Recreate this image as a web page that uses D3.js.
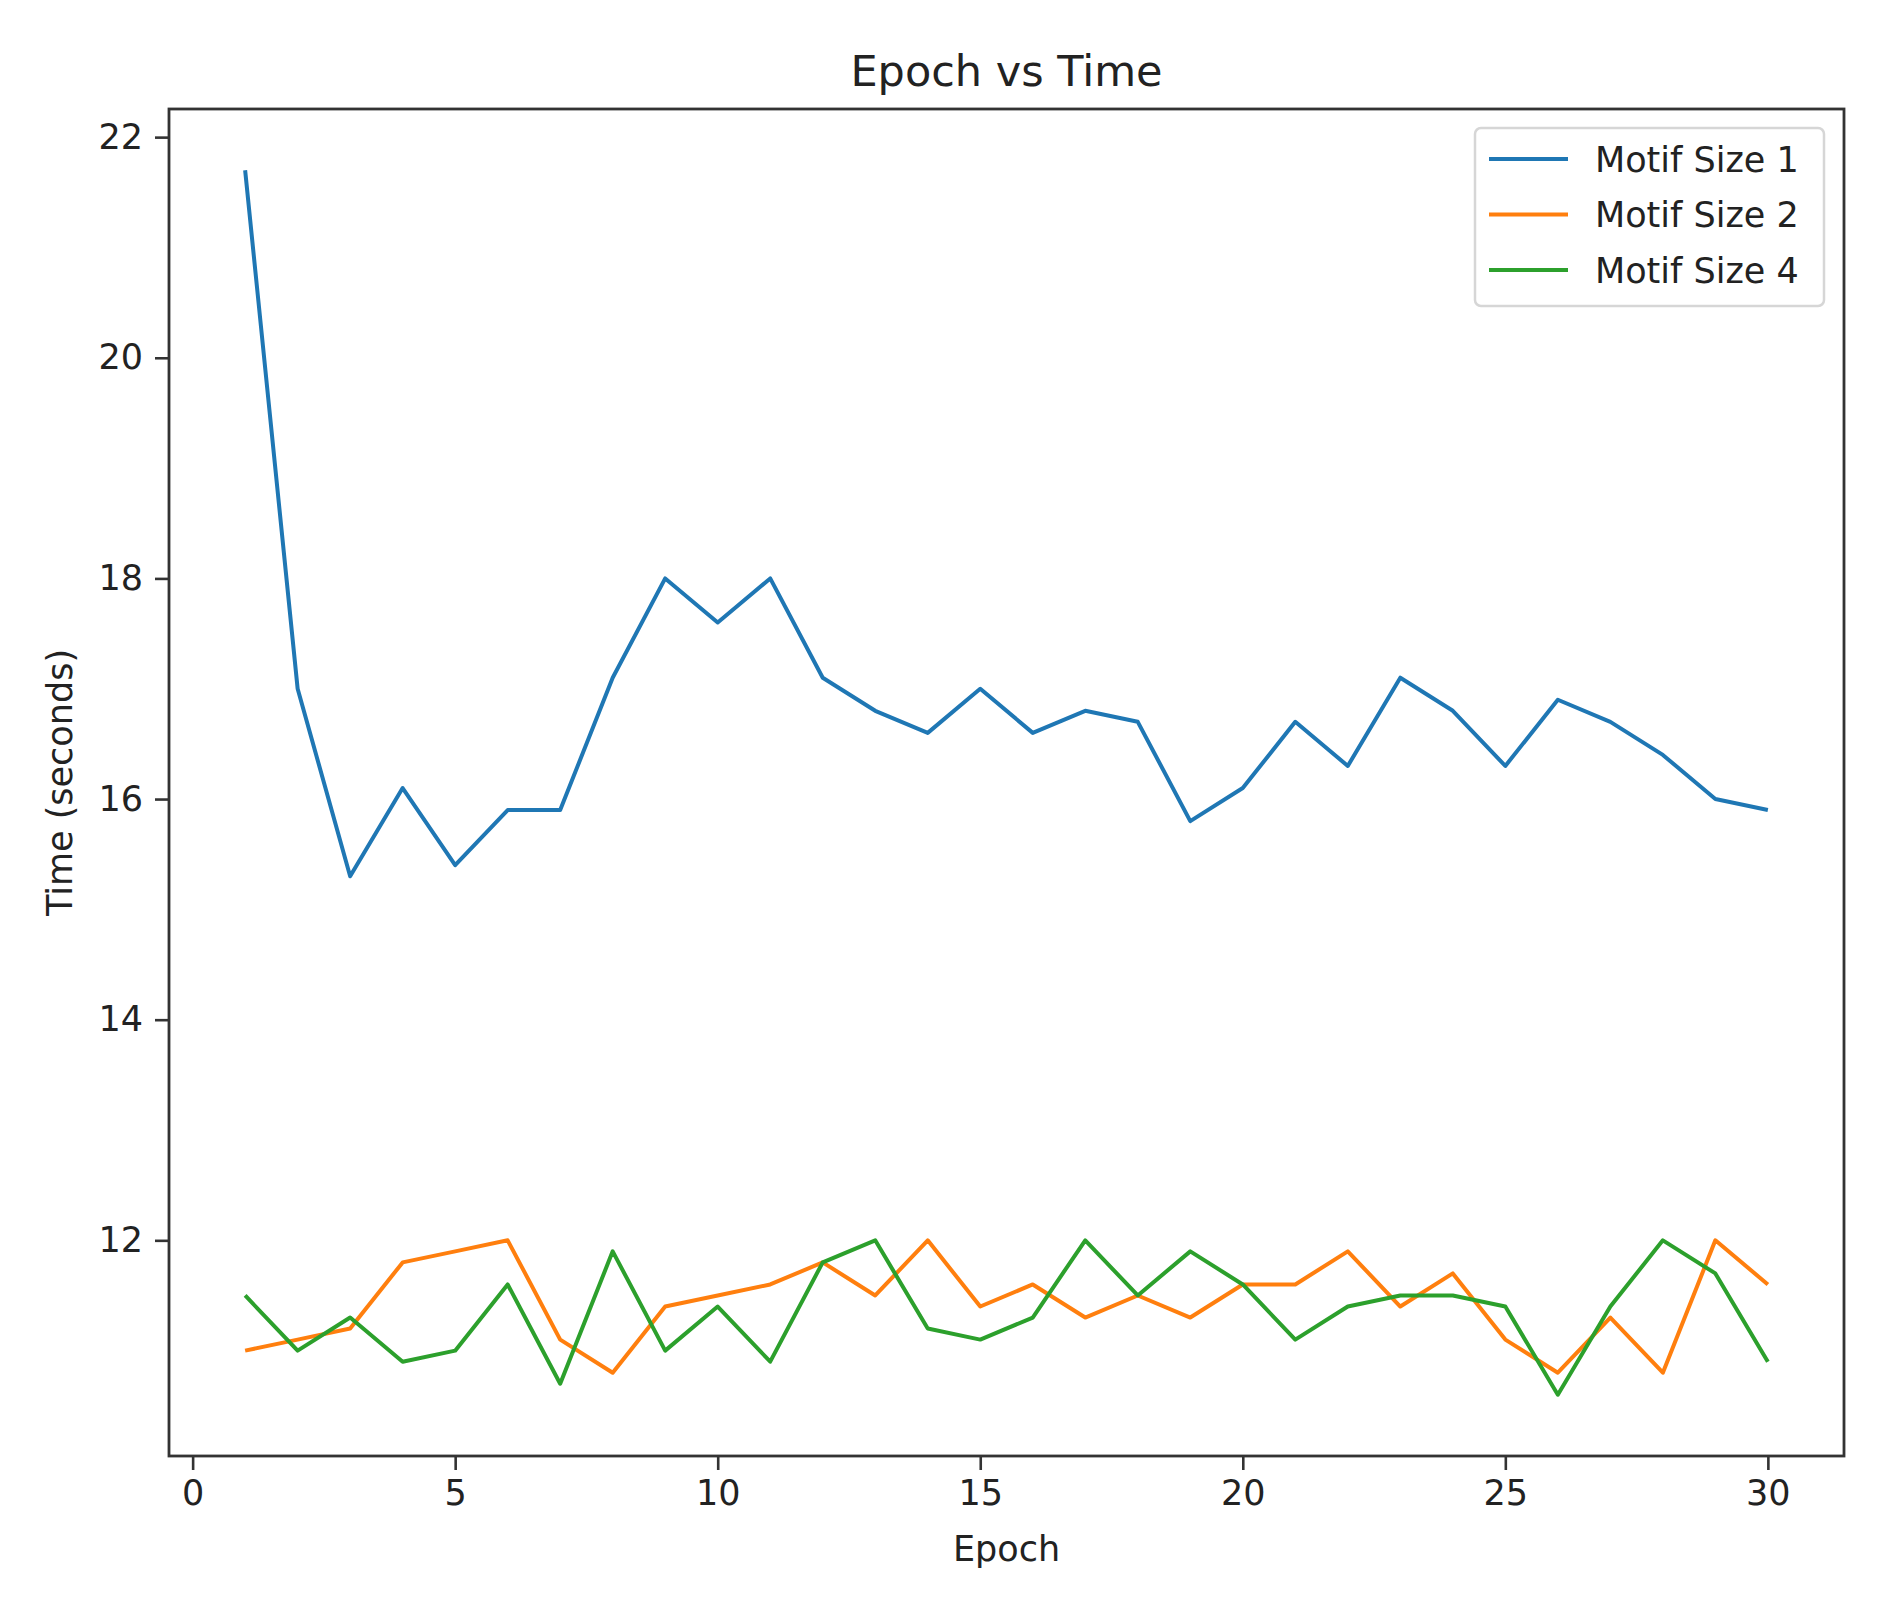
<!DOCTYPE html>
<html>
<head>
<meta charset="utf-8">
<script src="https://cdn.jsdelivr.net/npm/d3@7"></script>
<style>
  body { margin: 0; background: #fff; }
  svg { font-family: "DejaVu Sans", sans-serif; }
</style>
</head>
<body>
<svg id="chart"></svg>
<script>
// Epoch vs Time data
const epochs = d3.range(1, 31);
const motif1 = [21.7, 17.0, 15.3, 16.1, 15.4, 15.9, 15.9, 17.1, 18.0, 17.6,
                18.0, 17.1, 16.8, 16.6, 17.0, 16.6, 16.8, 16.7, 15.8, 16.1,
                16.7, 16.3, 17.1, 16.8, 16.3, 16.9, 16.7, 16.4, 16.0, 15.9];
const motif2 = [11.0, 11.1, 11.2, 11.8, 11.9, 12.0, 11.1, 10.8, 11.4, 11.5,
                11.6, 11.8, 11.5, 12.0, 11.4, 11.6, 11.3, 11.5, 11.3, 11.6,
                11.6, 11.9, 11.4, 11.7, 11.1, 10.8, 11.3, 10.8, 12.0, 11.6];
const motif4 = [11.5, 11.0, 11.3, 10.9, 11.0, 11.6, 10.7, 11.9, 11.0, 11.4,
                10.9, 11.8, 12.0, 11.2, 11.1, 11.3, 12.0, 11.5, 11.9, 11.6,
                11.1, 11.4, 11.5, 11.5, 11.4, 10.6, 11.4, 12.0, 11.7, 10.9];
const seriesNames = ["Motif Size 1", "Motif Size 2", "Motif Size 4"];
const seriesColors = ["#1f77b4", "#ff7f0e", "#2ca02c"];
const xTicks = [0, 5, 10, 15, 20, 25, 30];
const yTicks = [12, 14, 16, 18, 20, 22];

const width = 1880, height = 1615;
const margin = { top: 109, right: 36, bottom: 159, left: 169 };
const innerW = width - margin.left - margin.right;
const innerH = height - margin.top - margin.bottom;
const fontSize = 35;

const series = [motif1, motif2, motif4].map((vals, i) => ({
  name: seriesNames[i],
  color: seriesColors[i],
  values: vals.map((v, j) => ({ epoch: epochs[j], time: v }))
}));

// matplotlib style 5% padding on both axes
const xExt = d3.extent(epochs);
const xPad = (xExt[1] - xExt[0]) * 0.05;
const allY = motif1.concat(motif2, motif4);
const yExt = d3.extent(allY);
const yPad = (yExt[1] - yExt[0]) * 0.05;

const xScale = d3.scaleLinear()
  .domain([xExt[0] - xPad, xExt[1] + xPad])
  .range([0, innerW]);
const yScale = d3.scaleLinear()
  .domain([yExt[0] - yPad, yExt[1] + yPad])
  .range([innerH, 0]);

const svg = d3.select("#chart")
  .attr("width", width)
  .attr("height", height);

const chart = svg.append("g")
  .attr("transform", `translate(${margin.left},${margin.top})`);

const xAxis = d3.axisBottom(xScale)
  .tickValues(xTicks)
  .tickSizeInner(14)
  .tickSizeOuter(0)
  .tickPadding(10);
const yAxis = d3.axisLeft(yScale)
  .tickValues(yTicks)
  .tickSizeInner(14)
  .tickSizeOuter(0)
  .tickPadding(12);

const xAxisG = chart.append("g")
  .attr("transform", `translate(0,${innerH})`)
  .call(xAxis);
const yAxisG = chart.append("g").call(yAxis);

[xAxisG, yAxisG].forEach(g => {
  g.select(".domain").remove();
  g.selectAll(".tick line").attr("stroke", "#333").attr("stroke-width", 2.6);
  g.selectAll(".tick text")
    .attr("fill", "#222")
    .attr("font-size", fontSize)
    .attr("font-family", "DejaVu Sans, sans-serif");
});

// lines
const line = d3.line()
  .x(d => xScale(d.epoch))
  .y(d => yScale(d.time));

chart.selectAll(".series")
  .data(series)
  .join("path")
  .attr("class", "series")
  .attr("fill", "none")
  .attr("stroke", d => d.color)
  .attr("stroke-width", 4)
  .attr("stroke-linejoin", "round")
  .attr("d", d => line(d.values));

// frame
chart.append("rect")
  .attr("width", innerW)
  .attr("height", innerH)
  .attr("fill", "none")
  .attr("stroke", "#333")
  .attr("stroke-width", 2.8);

// title and axis labels
svg.append("text")
  .attr("x", margin.left + innerW / 2)
  .attr("y", 86)
  .attr("text-anchor", "middle")
  .attr("font-size", 43)
  .attr("fill", "#222")
  .text("Epoch vs Time");

svg.append("text")
  .attr("x", margin.left + innerW / 2)
  .attr("y", 1561)
  .attr("text-anchor", "middle")
  .attr("font-size", fontSize)
  .attr("fill", "#222")
  .text("Epoch");

svg.append("text")
  .attr("transform", `translate(72,${margin.top + innerH / 2}) rotate(-90)`)
  .attr("text-anchor", "middle")
  .attr("font-size", fontSize)
  .attr("fill", "#222")
  .text("Time (seconds)");

// legend
const legend = chart.append("g")
  .attr("transform", `translate(${innerW - 369},19)`);

legend.append("rect")
  .attr("width", 349)
  .attr("height", 178)
  .attr("rx", 6)
  .attr("fill", "#fff")
  .attr("fill-opacity", 0.8)
  .attr("stroke", "#d6d6d6")
  .attr("stroke-width", 2.5);

const items = legend.selectAll(".item")
  .data(series)
  .join("g")
  .attr("class", "item")
  .attr("transform", (d, i) => `translate(0,${31 + i * 55.5})`);

items.append("line")
  .attr("x1", 14)
  .attr("x2", 93)
  .attr("stroke", d => d.color)
  .attr("stroke-width", 4);

items.append("text")
  .attr("x", 120)
  .attr("dy", "0.36em")
  .attr("font-size", fontSize)
  .attr("fill", "#222")
  .text(d => d.name);
</script>
</body>
</html>
